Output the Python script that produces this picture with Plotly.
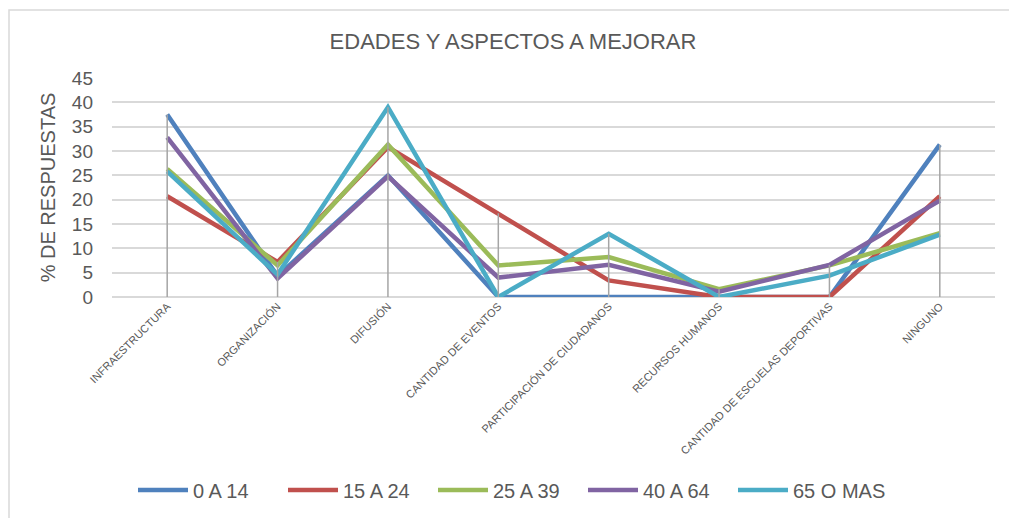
import plotly.graph_objects as go

categories = ["INFRAESTRUCTURA", "ORGANIZACIÓN", "DIFUSIÓN", "CANTIDAD DE EVENTOS",
              "PARTICIPACIÓN DE CIUDADANOS", "RECURSOS HUMANOS",
              "CANTIDAD DE ESCUELAS DEPORTIVAS", "NINGUNO"]
series_names = ["0 A 14", "15 A 24", "25 A 39", "40 A 64", "65 O MAS"]
s_0_14 = [37.5, 4.3, 25.0, 0.0, 0.0, 0.0, 0.0, 31.3]
s_15_24 = [20.7, 7.2, 30.8, 17.2, 3.4, 0.0, 0.0, 20.7]
s_25_39 = [26.3, 6.5, 31.3, 6.5, 8.2, 1.6, 6.5, 13.1]
s_40_64 = [32.8, 3.8, 24.8, 4.0, 6.6, 1.1, 6.6, 19.8]
s_65_mas = [25.8, 4.6, 39.0, 0.0, 13.0, 0.0, 4.4, 12.8]
y_ticks = [0, 5, 10, 15, 20, 25, 30, 35, 40, 45]

series_values = [s_0_14, s_15_24, s_25_39, s_40_64, s_65_mas]
colors = ["#4F81BD", "#C0504D", "#9BBB59", "#8064A2", "#4BACC6"]
TXT = "#595959"
FONT = "Liberation Sans, Arial, sans-serif"

W, H = 1009, 510
L, R, T, B = 104, 22, 70, 221

fig = go.Figure()
for k, (name, vals, col) in enumerate(zip(series_names, series_values, colors)):
    fig.add_trace(go.Scatter(x=categories, y=vals, name=name, mode="lines",
                             line=dict(color=col, width=4.5),
                             legendwidth=110 if k == len(series_names) - 1 else None))

# drop lines from each category's highest value down to the axis
dx, dy = [], []
for i, c in enumerate(categories):
    top = max(v[i] for v in series_values)
    dx += [c, c, None]
    dy += [0, top, None]
fig.add_trace(go.Scatter(x=dx, y=dy, mode="lines", showlegend=False, hoverinfo="skip",
                         line=dict(color="#A5A5A5", width=1.5)))

pw = W - L - R
ph = H - T - B
fig.add_shape(type="rect", xref="paper", yref="paper",
              x0=(1 - L) / pw, x1=(W + 5 - L) / pw,
              y0=(H - B - (H + 5)) / ph, y1=(H - B - 2) / ph,
              line=dict(color="#D9D9D9", width=1.5), fillcolor="rgba(0,0,0,0)", layer="below")

fig.update_layout(
    width=W, height=H,
    margin=dict(l=L, r=R, t=T, b=B),
    paper_bgcolor="white", plot_bgcolor="white",
    font=dict(family=FONT, color=TXT),
    title=dict(text="EDADES Y ASPECTOS A MEJORAR", x=505 / W, xref="container", xanchor="center",
               y=1 - 33 / H, yref="container", yanchor="middle",
               font=dict(size=22, color=TXT, family=FONT)),
    xaxis=dict(type="category", range=[-0.5, len(categories) - 0.5], showgrid=False,
               showline=False, zeroline=False, ticks="", tickangle=-45,
               tickfont=dict(size=11, color=TXT, family=FONT)),
    yaxis=dict(range=[0, 45], tickvals=y_ticks, ticktext=[str(v) for v in y_ticks],
               showgrid=True, gridcolor="#D9D9D9", gridwidth=1.5,
               zeroline=True, zerolinecolor="#D9D9D9", zerolinewidth=1.5,
               showline=False, ticks="", ticklabelstandoff=18,
               tickfont=dict(size=19, color=TXT, family=FONT),
               title=dict(text="% DE RESPUESTAS", standoff=10,
                          font=dict(size=20, color=TXT, family=FONT))),
    legend=dict(orientation="h", xref="container", yref="container",
                x=125 / W, xanchor="left", y=1 - 482 / H, yanchor="middle",
                itemwidth=50, entrywidth=85, font=dict(size=20, color=TXT, family=FONT),
                bgcolor="rgba(0,0,0,0)"),
    showlegend=True,
)

fig.write_html("out.html")
